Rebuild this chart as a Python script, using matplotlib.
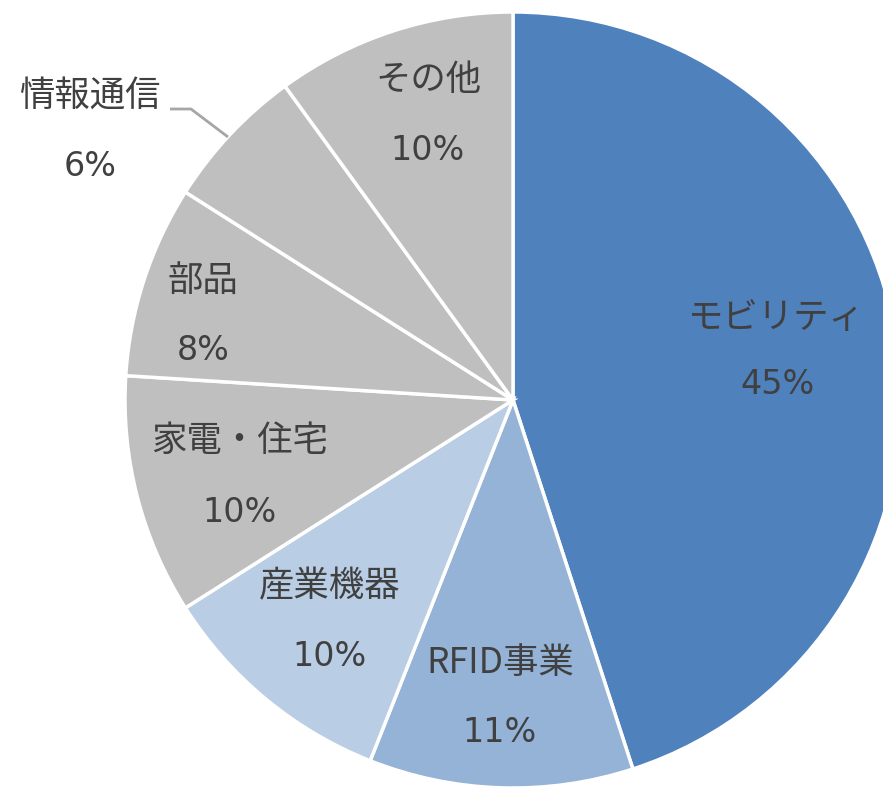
import matplotlib
matplotlib.use("Agg")
import matplotlib.pyplot as plt

plt.rcParams['font.family'] = ['Noto Sans CJK JP', 'DejaVu Sans']

categories = ["モビリティ", "RFID事業", "産業機器", "家電・住宅", "部品", "情報通信", "その他"]
values = [45, 11, 10, 10, 8, 6, 10]
colors = ["#4F81BD", "#95B3D7", "#B9CDE5", "#BFBFBF", "#BFBFBF", "#BFBFBF", "#BFBFBF"]

W, H = 883, 791
fig = plt.figure(figsize=(W / 100, H / 100), dpi=100)
ax = fig.add_axes([0, 0, 1, 1])

cx, cy, r = 513, H - 400, 388
ax.pie(values, colors=colors, startangle=90, counterclock=False,
       center=(cx, cy), radius=r, frame=True,
       wedgeprops=dict(edgecolor='white', linewidth=2.5))
ax.set_xlim(0, W)
ax.set_ylim(0, H)
ax.set_aspect('equal')
ax.axis('off')

# label positions in pixel coords (name line center, pct line center)
label_pos = [(776, 318, 778, 385),
             (500, 663, 500, 733),
             (330, 586, 330, 657),
             (240, 441, 240, 513),
             (203, 281, 203, 350),
             (90, 97, 90, 167),
             (428, 80, 428, 150)]
tc = '#404040'
for name, v, (nx, ny, px, py) in zip(categories, values, label_pos):
    ax.text(nx, H - ny, name, ha='center', va='center', fontsize=25.5, color=tc,
            family=['Noto Sans CJK JP', 'DejaVu Sans'])
    ax.text(px, H - py, f"{v}%", ha='center', va='center', fontsize=24, color=tc,
            family=['DejaVu Sans'])

# leader line for 情報通信
ax.plot([170, 191, 228], [H - 109, H - 109, H - 137], color='#A6A6A6', lw=2,
        solid_capstyle='butt')

fig.savefig("out.png", dpi=100, facecolor='white')
